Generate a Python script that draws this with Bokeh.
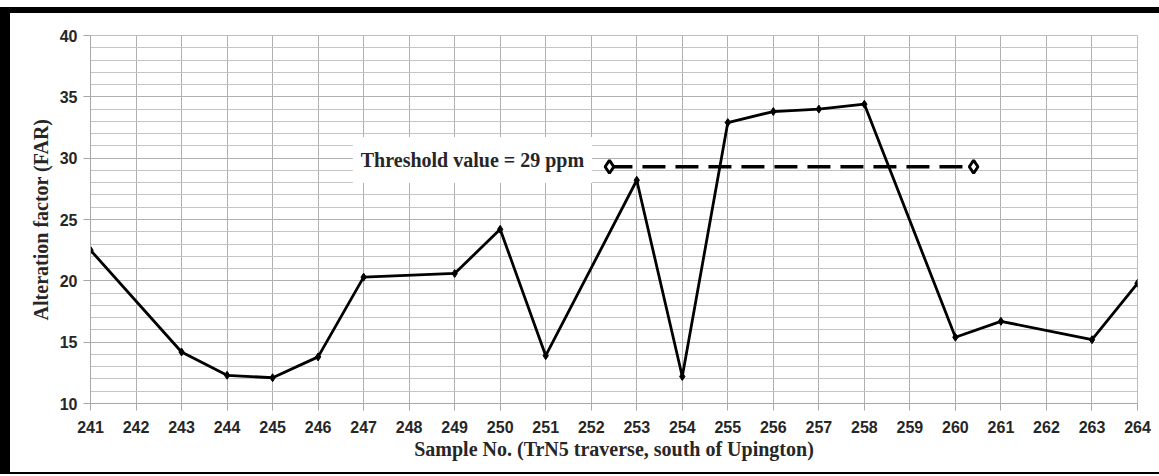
from bokeh.plotting import figure
from bokeh.models import Label, FixedTicker, ColumnDataSource, Spacer
from bokeh.layouts import column, row
from bokeh.embed import file_html
from bokeh.resources import INLINE

# ---- data ----
samples = [241, 243, 244, 245, 246, 247, 249, 250, 251, 253, 254, 255, 256, 257, 258, 260, 261, 263, 264]
far = [22.5, 14.2, 12.3, 12.1, 13.8, 20.3, 20.6, 24.2, 13.9, 28.2, 12.2, 32.9, 33.8, 34.0, 34.4, 15.4, 16.7, 15.2, 19.8]
tick_labels = [str(v) for v in range(241, 265)]
threshold_x = [252.4, 260.4]
threshold_y = [29.3, 29.3]
threshold_text = "Threshold value = 29 ppm"

fig = figure(width=1149, height=459,
             x_range=(241, 264), y_range=(10, 40),
             min_border_left=80, min_border_right=22, min_border_top=22, min_border_bottom=69,
             output_backend="svg", toolbar_location=None,
             background_fill_color="white", border_fill_color="white")
fig.outline_line_color = "#bdbdbd"

# axes
fig.xaxis.ticker = FixedTicker(ticks=list(range(241, 265)))
fig.xaxis.major_label_overrides = {i: tick_labels[i - 241] for i in range(241, 265)}
fig.yaxis.ticker = FixedTicker(ticks=[10, 15, 20, 25, 30, 35, 40], minor_ticks=list(range(10, 41)))
for ax in (fig.xaxis[0], fig.yaxis[0]):
    ax.axis_line_color = "#a8a8a8"
    ax.major_tick_line_color = "#a8a8a8"
    ax.major_tick_out = 7
    ax.major_tick_in = 0
    ax.minor_tick_line_color = None
    ax.major_label_text_font = "Liberation Sans"
    ax.major_label_text_font_style = "bold"
    ax.major_label_text_font_size = "16px"
    ax.major_label_text_color = "#262626"
    ax.axis_label_text_font = "Liberation Serif"
    ax.axis_label_text_font_style = "bold"
    ax.axis_label_text_font_size = "20px"
    ax.axis_label_text_color = "#262626"
fig.xaxis.major_label_standoff = 10
fig.yaxis.major_label_standoff = 6
fig.xaxis.axis_label = "Sample No. (TrN5 traverse, south of Upington)"
fig.xaxis.axis_label_standoff = 2
fig.yaxis.axis_label = "Alteration factor (FAR)"
fig.yaxis.axis_label_standoff = 5

# grid
fig.xgrid.grid_line_color = "#b0b0b0"
fig.xgrid.grid_line_width = 1
fig.ygrid.grid_line_color = "#b0b0b0"
fig.ygrid.minor_grid_line_color = "#c4c4c4"

src = ColumnDataSource(dict(x=samples, y=far))
fig.line("x", "y", source=src, line_color="black", line_width=2.8)
fig.scatter("x", "y", source=src, marker="diamond", size=8, color="black")

# threshold
fig.line(threshold_x, threshold_y, line_color="black", line_width=3.5, line_dash="23 10")
fig.scatter(threshold_x, threshold_y, marker="diamond", size=13, fill_color="white",
            line_color="black", line_width=3)

lab = Label(x=249.39, y=29.85, text=threshold_text, text_align="center", text_baseline="middle",
            text_font="Liberation Serif", text_font_style="bold", text_font_size="20px",
            text_color="#262626", background_fill_color="white", padding=(8, 12))
fig.add_layout(lab)

# page frame: white gap, thick top bar, thick left bar, thin bottom line
black = {"background-color": "black"}
p = column(
    Spacer(width=1159, height=7),
    Spacer(width=1159, height=6, styles=black),
    row(Spacer(width=10, height=459, styles=black), fig, spacing=0),
    Spacer(width=1159, height=2, styles=black),
    spacing=0,
)

open("out.html", "w").write(file_html(p, INLINE))
